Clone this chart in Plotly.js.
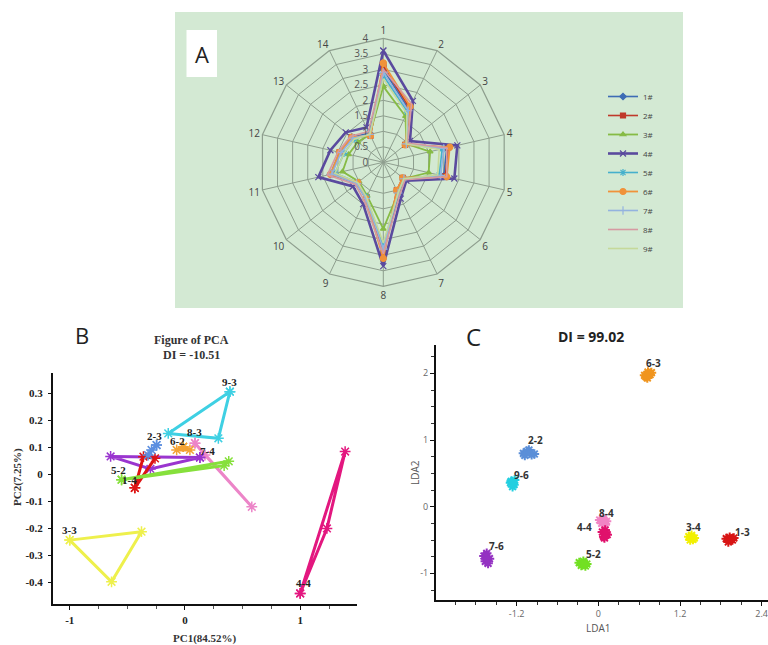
<!DOCTYPE html>
<html>
<head>
<meta charset="utf-8">
<script src="https://cdn.plot.ly/plotly-3.0.1.min.js"></script>
<style>html,body{margin:0;padding:0;background:#fff;}#chart{width:768px;height:645px;}</style>
</head>
<body>
<div id="chart"></div>
<script>
// ---------- Panel A: radar data ----------
var radarCats = ["1","2","3","4","5","6","7","8","9","10","11","12","13","14"];
var radarNames = ["1#","2#","3#","4#","5#","6#","7#","8#","9#"];
var r1 = [3.00, 1.90, 0.95, 2.10, 2.00, 0.85, 1.15, 2.90, 1.30, 1.10, 1.75, 1.45, 1.30, 1.05];
var r2 = [3.10, 1.95, 0.90, 2.15, 2.05, 0.80, 1.00, 3.00, 1.25, 1.05, 1.70, 1.45, 1.30, 0.95];
var r3 = [2.45, 1.65, 0.95, 1.55, 1.50, 0.85, 1.10, 2.15, 1.20, 1.00, 1.35, 1.15, 1.05, 1.00];
var r4 = [3.60, 2.20, 1.10, 2.45, 2.35, 0.95, 1.30, 3.35, 1.50, 1.25, 2.15, 1.75, 1.55, 1.25];
var r5 = [2.80, 1.80, 0.95, 1.95, 1.85, 0.85, 1.10, 2.70, 1.25, 1.05, 1.60, 1.30, 1.20, 1.00];
var r6 = [3.20, 2.00, 0.90, 2.20, 2.10, 0.80, 1.00, 3.10, 1.30, 1.05, 1.75, 1.45, 1.30, 0.95];
var r7 = [2.90, 1.85, 0.95, 2.00, 1.90, 0.85, 1.10, 2.80, 1.30, 1.10, 1.70, 1.40, 1.25, 1.00];
var r8 = [3.00, 2.10, 1.00, 2.10, 2.10, 0.90, 1.20, 2.95, 1.40, 1.15, 1.85, 1.50, 1.35, 1.10];
var r9 = [2.70, 1.75, 0.95, 1.85, 1.80, 0.85, 1.10, 2.60, 1.25, 1.05, 1.60, 1.30, 1.20, 1.00];
var radarValues = [r1, r2, r3, r4, r5, r6, r7, r8, r9];

// ---------- Panel B: PCA triangles ----------
var pcaLabels = ["9-3","3-3","4-4","8-3","7-4","1-4","5-2","2-3","6-2"];
var pcaX9_3 = [0.39, -0.145, 0.29];   var pcaY9_3 = [0.305, 0.151, 0.133];
var pcaX3_3 = [-1.0, -0.377, -0.637]; var pcaY3_3 = [-0.243, -0.212, -0.397];
var pcaX4_4 = [1.0, 1.39, 1.232];     var pcaY4_4 = [-0.44, 0.084, -0.20];
var pcaX8_3 = [0.087, 0.174, 0.58];   var pcaY8_3 = [0.115, 0.071, -0.12];
var pcaX7_4 = [0.13, -0.645, -0.30];  var pcaY7_4 = [0.062, 0.066, 0.020];
var pcaX1_4 = [-0.435, -0.36, -0.26]; var pcaY1_4 = [-0.050, 0.065, 0.059];
var pcaX5_2 = [-0.55, 0.38, 0.34];    var pcaY5_2 = [-0.020, 0.048, 0.032];
var pcaX2_3 = [-0.246, -0.29, -0.32]; var pcaY2_3 = [0.108, 0.090, 0.071];
var pcaX6_2 = [-0.015, -0.072, 0.043];var pcaY6_2 = [0.102, 0.090, 0.090];
var pcaXs = [pcaX9_3, pcaX3_3, pcaX4_4, pcaX8_3, pcaX7_4, pcaX1_4, pcaX5_2, pcaX2_3, pcaX6_2];
var pcaYs = [pcaY9_3, pcaY3_3, pcaY4_4, pcaY8_3, pcaY7_4, pcaY1_4, pcaY5_2, pcaY2_3, pcaY6_2];
var pcaTicksX = [-1, 0, 1];
var pcaTicksY = [0.3, 0.2, 0.1, 0, -0.1, -0.2, -0.3, -0.4];

// ---------- Panel C: LDA clusters ----------
var ldaLabels = ["6-3","2-2","9-6","8-4","4-4","3-4","1-3","5-2","7-6"];
var ldaX6_3 = [0.70, 0.74, 0.78, 0.72, 0.68, 0.76, 0.73]; var ldaY6_3 = [1.95, 2.00, 2.01, 1.93, 1.97, 1.98, 2.02];
var ldaX2_2 = [-1.10, -1.05, -0.98, -1.02, -0.94, -1.08, -1.00]; var ldaY2_2 = [0.80, 0.83, 0.78, 0.85, 0.79, 0.77, 0.81];
var ldaX9_6 = [-1.28, -1.24, -1.26, -1.29, -1.23, -1.25]; var ldaY9_6 = [0.38, 0.33, 0.30, 0.36, 0.40, 0.35];
var ldaX8_4 = [0.02, 0.07, 0.12, 0.05, 0.10, 0.08]; var ldaY8_4 = [-0.20, -0.18, -0.22, -0.25, -0.27, -0.21];
var ldaX4_4 = [0.06, 0.10, 0.13, 0.08, 0.11, 0.09]; var ldaY4_4 = [-0.38, -0.35, -0.42, -0.45, -0.40, -0.47];
var ldaX3_4 = [1.33, 1.37, 1.41, 1.35, 1.39, 1.36]; var ldaY3_4 = [-0.45, -0.43, -0.47, -0.50, -0.49, -0.46];
var ldaX1_3 = [1.88, 1.93, 1.97, 1.91, 1.95, 1.99]; var ldaY1_3 = [-0.48, -0.46, -0.50, -0.53, -0.49, -0.47];
var ldaX5_2 = [-0.28, -0.22, -0.17, -0.25, -0.19, -0.21]; var ldaY5_2 = [-0.84, -0.82, -0.86, -0.88, -0.89, -0.85];
var ldaX7_6 = [-1.68, -1.64, -1.60, -1.66, -1.62, -1.65]; var ldaY7_6 = [-0.74, -0.70, -0.78, -0.82, -0.85, -0.78];
var ldaXs = [ldaX6_3, ldaX2_2, ldaX9_6, ldaX8_4, ldaX4_4, ldaX3_4, ldaX1_3, ldaX5_2, ldaX7_6];
var ldaYs = [ldaY6_3, ldaY2_2, ldaY9_6, ldaY8_4, ldaY4_4, ldaY3_4, ldaY1_3, ldaY5_2, ldaY7_6];
var ldaTicksX = [-1.2, 0, 1.2, 2.4];
var ldaTicksY = [-1, 0, 1, 2];

// ---------- styles ----------
var W = 768, H = 645;
function px(x) { return x / W; }
function py(y) { return 1 - y / H; }

var radarColors = ["#3e6cb5", "#c0392b", "#86bb45", "#5a4a9e", "#45b0cc", "#f0923a", "#93b3df", "#d69aa2", "#c5d99a"];
var radarSymbols = ["diamond", "square", "triangle-up", "x-thin", "asterisk", "circle", "cross-thin", "circle", "circle"];
var radarMarkerSize = [5, 5, 5, 6, 6, 6, 6, 0, 0];
var radarWidth = [1.6, 1.6, 1.8, 2.6, 1.6, 1.8, 1.6, 1.6, 1.6];

var pcaColors = ["#3fd0e3", "#eef04c", "#e3177f", "#ec85c8", "#9a35cf", "#dd1414", "#86e03c", "#5c8fe0", "#f3a234"];
var pcaLabelShift = [[0, 10, 0], [0, 10, 0], [3, 10, 0], [0, 11, 0], [8, 7, 0], [-5, 8, 0], [-3, 10, 0], [-2, 9, 0], [-6, 6, 0]];

var ldaColors = ["#f0951f", "#5b8fd8", "#22cfe0", "#f184c4", "#e0116c", "#f2f000", "#d81515", "#72e022", "#9432c2"];
var ldaLabelShift = [[5, 12], [7, 13], [9, 8], [3, 8], [-20, 7], [2, 11], [12, 7], [10, 10], [10, 13]];

var traces = [];
radarValues.forEach(function (vals, i) {
  traces.push({
    type: "scatterpolar",
    r: vals.concat([vals[0]]),
    theta: radarCats.concat([radarCats[0]]),
    name: radarNames[i],
    mode: radarMarkerSize[i] > 0 ? "lines+markers" : "lines",
    line: { color: radarColors[i], width: radarWidth[i] },
    marker: { symbol: radarSymbols[i], size: radarMarkerSize[i], color: radarColors[i], line: { color: radarColors[i], width: 1.2 } },
    subplot: "polar",
    showlegend: true,
    hoverinfo: "skip"
  });
});

var annotations = [];
pcaXs.forEach(function (xs, i) {
  var ys = pcaYs[i];
  traces.push({
    type: "scatter", mode: "lines+markers",
    x: xs.concat([xs[0]]), y: ys.concat([ys[0]]),
    xaxis: "x", yaxis: "y",
    line: { color: pcaColors[i], width: 3 },
    marker: { symbol: "asterisk-open", size: 9, color: pcaColors[i], line: { color: pcaColors[i], width: 1.5 } },
    showlegend: false, hoverinfo: "skip"
  });
  var s = pcaLabelShift[i];
  annotations.push({
    xref: "x", yref: "y", x: xs[s[2]], y: ys[s[2]], text: pcaLabels[i], showarrow: false,
    xshift: s[0], yshift: s[1],
    font: { family: "Liberation Serif", size: 11, color: "#222", weight: "bold" }
  });
});

function mean(a) { return a.reduce(function (p, c) { return p + c; }, 0) / a.length; }
ldaXs.forEach(function (xs, i) {
  var ys = ldaYs[i];
  traces.push({
    type: "scatter", mode: "markers",
    x: xs, y: ys, xaxis: "x2", yaxis: "y2",
    marker: { symbol: "asterisk-open", size: 8, color: ldaColors[i], line: { color: ldaColors[i], width: 2 } },
    showlegend: false, hoverinfo: "skip"
  });
  var s = ldaLabelShift[i];
  annotations.push({
    xref: "x2", yref: "y2", x: mean(xs), y: mean(ys), text: "<b>" + ldaLabels[i] + "</b>", showarrow: false,
    xshift: s[0], yshift: s[1],
    font: { family: "Open Sans", size: 10, color: "#333" }
  });
});

function ann(x, y, text, font, extra) {
  var a = { xref: "paper", yref: "paper", x: px(x), y: py(y), text: text, showarrow: false, font: font, xanchor: "center", yanchor: "middle" };
  if (extra) for (var k in extra) a[k] = extra[k];
  annotations.push(a);
}
ann(201.7, 54, "A", { family: "Open Sans", size: 22, color: "#222" });
ann(82, 335, "B", { family: "Open Sans", size: 22, color: "#222" });
ann(191.7, 340, "<b>Figure of PCA</b>", { family: "Liberation Serif", size: 12, color: "#333" });
ann(191.7, 355, "<b>DI = -10.51</b>", { family: "Liberation Serif", size: 12, color: "#333" });
ann(205, 638, "<b>PC1(84.52%)</b>", { family: "Liberation Serif", size: 11, color: "#333" });
ann(17, 477, "<b>PC2(7.25%)</b>", { family: "Liberation Serif", size: 11, color: "#333" }, { textangle: -90 });
ann(473, 336, "C", { family: "Open Sans", size: 24, color: "#222" });
ann(591, 337, "<b>DI = 99.02</b>", { family: "Open Sans", size: 14, color: "#222" });
ann(598, 628, "LDA1", { family: "Open Sans", size: 10, color: "#555" });
ann(415, 473, "LDA2", { family: "Open Sans", size: 10, color: "#555" }, { textangle: -90 });

var shapes = [
  { type: "rect", xref: "paper", yref: "paper", x0: px(175), x1: px(683), y0: py(308), y1: py(12), fillcolor: "#d3e9d3", line: { width: 0 }, layer: "below" },
  { type: "rect", xref: "paper", yref: "paper", x0: px(186.5), x1: px(217), y0: py(77), y1: py(30), fillcolor: "#ffffff", line: { width: 0 }, layer: "below" }
];

var serifTick = { family: "Liberation Serif", size: 11, color: "#222", weight: "bold" };
var layout = {
  width: W, height: H,
  margin: { l: 0, r: 0, t: 0, b: 0 },
  paper_bgcolor: "#ffffff", plot_bgcolor: "rgba(0,0,0,0)",
  showlegend: true,
  legend: {
    x: px(603), y: py(82), xanchor: "left", yanchor: "top",
    bgcolor: "rgba(0,0,0,0)", font: { family: "Open Sans", size: 8, color: "#444" },
    tracegroupgap: 0, itemwidth: 30
  },
  polar: {
    domain: { x: [px(383.3 - 124), px(383.3 + 124)], y: [py(162.3 + 124), py(162.3 - 124)] },
    bgcolor: "rgba(0,0,0,0)",
    gridshape: "linear",
    angularaxis: {
      type: "category", categoryarray: radarCats, direction: "clockwise", rotation: 90,
      gridcolor: "#8e9e8e", linecolor: "#8e9e8e", linewidth: 1.2, gridwidth: 1,
      tickfont: { family: "Open Sans", size: 10, color: "#444" }, ticks: ""
    },
    radialaxis: {
      range: [0, 4], dtick: 0.5, angle: 90, tickangle: 90, side: "counterclockwise",
      ticksuffix: "\u00a0\u00a0\u00a0\u00a0\u00a0",
      gridcolor: "#8e9e8e", gridwidth: 1, showline: false, ticks: "",
      tickfont: { family: "Open Sans", size: 10, color: "#555" }
    }
  },
  xaxis: {
    domain: [px(53), px(357)], range: [-1.145, 1.493], anchor: "y",
    showgrid: false, zeroline: false, showline: true, linecolor: "#111", linewidth: 2,
    tickmode: "array", tickvals: pcaTicksX, ticktext: pcaTicksX.map(String),
    ticks: "outside", ticklen: 4, tickcolor: "#111", tickfont: serifTick,
    minor: { dtick: 0.25, tick0: 0, ticks: "outside", ticklen: 3, tickcolor: "#555", showgrid: false }
  },
  yaxis: {
    domain: [py(604.3), py(373.3)], range: [-0.48, 0.373], anchor: "x",
    showgrid: false, zeroline: false, showline: true, linecolor: "#111", linewidth: 2,
    tickmode: "array", tickvals: pcaTicksY, ticktext: pcaTicksY.map(function (v) { return v === 0 ? "0" : v.toFixed(1); }),
    ticks: "outside", ticklen: 3, tickcolor: "#111", tickfont: serifTick, ticklabelstandoff: 3
  },
  xaxis2: {
    domain: [px(436), 1], range: [-2.385, 2.493], anchor: "y2",
    showgrid: false, zeroline: false, showline: true, linecolor: "#111", linewidth: 2,
    tickmode: "array", tickvals: ldaTicksX, ticktext: ldaTicksX.map(String),
    ticks: "outside", ticklen: 4, tickcolor: "#111", tickfont: { family: "Open Sans", size: 9, color: "#666" },
    minor: { dtick: 0.3, tick0: 0, ticks: "outside", ticklen: 3, tickcolor: "#333", showgrid: false }
  },
  yaxis2: {
    domain: [py(600), py(345)], range: [-1.4, 2.425], anchor: "x2",
    showgrid: false, zeroline: false, showline: true, linecolor: "#111", linewidth: 2,
    tickmode: "array", tickvals: ldaTicksY, ticktext: ldaTicksY.map(String),
    ticks: "outside", ticklen: 4, tickcolor: "#111", tickfont: { family: "Open Sans", size: 9, color: "#666" },
    minor: { dtick: 0.25, tick0: 0, ticks: "outside", ticklen: 3, tickcolor: "#333", showgrid: false }
  },
  shapes: shapes,
  annotations: annotations
};

Plotly.newPlot("chart", traces, layout, { displayModeBar: false, staticPlot: true });
</script>
</body>
</html>
